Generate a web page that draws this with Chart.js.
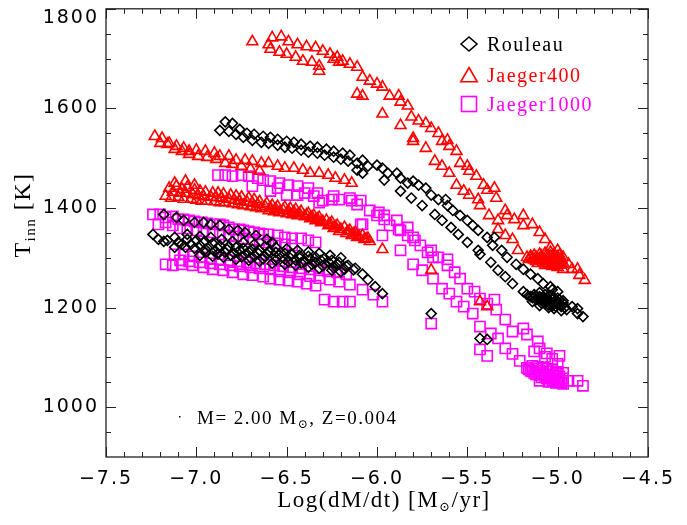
<!DOCTYPE html>
<html>
<head>
<meta charset="utf-8">
<script src="https://cdn.jsdelivr.net/npm/chart.js@4.4.1/dist/chart.umd.min.js"></script>
<style>
  html, body { margin: 0; padding: 0; background: #fff; }
</style>
</head>
<body>
<canvas id="chart" width="687" height="525"></canvas>
<script>
'use strict';

const BLACK = '#000000';
const RED = '#FF0000';
const MAGENTA = '#FF00FF';
const SERIF = "'Liberation Serif', 'DejaVu Serif', serif";
const SANS = "'DejaVu Sans', 'Liberation Sans', sans-serif";

// axes: x = Log(dM/dt) [Msun/yr], y = T_inn [K]
const xTicks = [-7.5, -7.0, -6.5, -6.0, -5.5, -5.0, -4.5];
const xTickLabels = ['\u22127.5', '\u22127.0', '\u22126.5', '\u22126.0', '\u22125.5', '\u22125.0', '\u22124.5'];
const xMinorTicks = [-7.4, -7.3, -7.2, -7.1, -6.9, -6.8, -6.7, -6.6, -6.4, -6.3, -6.2, -6.1,
  -5.9, -5.8, -5.7, -5.6, -5.4, -5.3, -5.2, -5.1, -4.9, -4.8, -4.7, -4.6];
const yTicks = [1000, 1200, 1400, 1600, 1800];
const yTickLabels = ['1000', '1200', '1400', '1600', '1800'];
const yMinorTicks = [950, 1050, 1100, 1150, 1250, 1300, 1350, 1450, 1500, 1550, 1650, 1700, 1750];

const legendLabels = ['Rouleau', 'Jaeger400', 'Jaeger1000'];

// Rouleau (diamonds)
const rouleauUpperBand = [
  [-6.84, 1573], [-6.80, 1570], [-6.76, 1558], [-6.72, 1550], [-6.68, 1548], [-6.63, 1544], [-6.59, 1542],
  [-6.55, 1538], [-6.50, 1534], [-6.46, 1532], [-6.42, 1528], [-6.37, 1524], [-6.33, 1522], [-6.28, 1518],
  [-6.24, 1514], [-6.19, 1510], [-6.15, 1506],
  [-6.87, 1556], [-6.82, 1554], [-6.78, 1548], [-6.74, 1542], [-6.69, 1536], [-6.64, 1532], [-6.60, 1530],
  [-6.55, 1526], [-6.51, 1522], [-6.47, 1520], [-6.42, 1516], [-6.38, 1512], [-6.33, 1510], [-6.29, 1506],
  [-6.24, 1502], [-6.20, 1498], [-6.16, 1494], [-6.11, 1490],
  [-6.08, 1496], [-6.11, 1476], [-6.08, 1470], [-6.05, 1484], [-6.00, 1486], [-5.97, 1480], [-5.96, 1456],
  [-5.94, 1470], [-5.89, 1470]
];
const rouleauUpperSteep = [
  [-5.87, 1460], [-5.83, 1450], [-5.80, 1454], [-5.77, 1446], [-5.73, 1440], [-5.70, 1426], [-5.66, 1417],
  [-5.62, 1417], [-5.61, 1405], [-5.58, 1395], [-5.54, 1385], [-5.50, 1375], [-5.47, 1365], [-5.44, 1355],
  [-5.39, 1341], [-5.35, 1341], [-5.36, 1325], [-5.31, 1315], [-5.28, 1301], [-5.23, 1287], [-5.19, 1277],
  [-5.15, 1267], [-5.11, 1258], [-5.08, 1248], [-5.04, 1242], [-5.03, 1236], [-5.00, 1232]
];
const rouleauLowerSteep = [
  [-5.87, 1434], [-5.81, 1420], [-5.75, 1405], [-5.68, 1387], [-5.64, 1375], [-5.59, 1361], [-5.55, 1347],
  [-5.50, 1331], [-5.44, 1315], [-5.43, 1307], [-5.37, 1291], [-5.33, 1275], [-5.29, 1262], [-5.25, 1248],
  [-5.19, 1232], [-5.14, 1212]
];
const rouleauClump = [
  [-5.17, 1226], [-5.14, 1220], [-5.11, 1218], [-5.09, 1214], [-5.06, 1212], [-5.03, 1208], [-5.00, 1206],
  [-4.98, 1202], [-5.10, 1230], [-5.07, 1226], [-5.04, 1224], [-5.02, 1220], [-4.99, 1216], [-5.10, 1204],
  [-5.05, 1200], [-5.02, 1198], [-4.98, 1194], [-4.95, 1196], [-4.92, 1202], [-4.89, 1198], [-4.89, 1188],
  [-4.86, 1182], [-5.12, 1224], [-5.08, 1220], [-5.05, 1216], [-5.01, 1212], [-5.07, 1208], [-5.03, 1203],
  [-4.97, 1209], [-5.15, 1222], [-5.13, 1226], [-5.12, 1216], [-5.10, 1222], [-5.09, 1209], [-5.08, 1214],
  [-5.06, 1220], [-5.05, 1205], [-5.04, 1212], [-5.03, 1216], [-5.01, 1202], [-5.00, 1210], [-5.00, 1219],
  [-4.98, 1205], [-4.97, 1214], [-4.96, 1200]
];
const rouleauLowerBand = [
  [-7.24, 1347], [-7.21, 1337], [-7.16, 1335], [-7.12, 1341], [-7.10, 1331], [-7.05, 1337], [-7.00, 1335],
  [-6.96, 1331], [-6.91, 1329], [-6.87, 1325], [-6.82, 1323], [-6.78, 1321], [-6.74, 1319], [-6.69, 1317],
  [-6.65, 1315], [-6.60, 1313], [-6.56, 1311], [-6.51, 1309], [-6.47, 1307], [-6.43, 1305], [-6.38, 1303],
  [-6.34, 1301], [-6.29, 1299], [-6.25, 1295], [-6.21, 1291], [-6.16, 1285], [-6.12, 1279], [-6.08, 1267],
  [-6.05, 1256], [-6.01, 1242], [-5.97, 1228],
  [-7.05, 1347], [-6.98, 1343], [-6.92, 1341], [-6.86, 1337], [-6.80, 1333], [-6.74, 1331], [-6.68, 1327],
  [-6.62, 1323], [-6.56, 1321], [-6.50, 1318], [-6.44, 1315], [-6.38, 1312], [-6.32, 1309], [-6.26, 1305],
  [-6.20, 1300],
  [-7.18, 1333], [-7.08, 1327], [-7.03, 1327], [-6.98, 1325], [-6.93, 1322], [-6.88, 1319], [-6.83, 1317],
  [-6.76, 1315], [-6.71, 1312], [-6.66, 1310], [-6.61, 1308], [-6.54, 1306], [-6.49, 1303], [-6.43, 1300],
  [-6.37, 1298], [-6.31, 1295], [-6.27, 1292], [-6.22, 1288], [-6.17, 1283], [-6.13, 1276],
  [-7.12, 1321], [-7.06, 1321], [-7.01, 1319], [-6.95, 1317], [-6.90, 1313], [-6.84, 1311], [-6.79, 1309],
  [-6.73, 1307], [-6.68, 1305], [-6.62, 1303], [-6.56, 1301], [-6.51, 1297], [-6.45, 1295], [-6.40, 1293],
  [-6.34, 1291], [-6.29, 1287], [-6.23, 1283], [-6.18, 1277],
  [-6.95, 1311], [-6.88, 1308], [-6.81, 1305], [-6.75, 1302], [-6.70, 1300], [-6.63, 1298], [-6.56, 1295],
  [-6.49, 1292], [-6.42, 1290], [-6.36, 1287], [-6.30, 1284], [-6.24, 1280], [-6.20, 1272],
  [-6.98, 1305], [-6.91, 1303], [-6.85, 1301], [-6.78, 1297], [-6.71, 1295], [-6.65, 1293], [-6.58, 1289],
  [-6.51, 1287], [-6.45, 1285], [-6.38, 1281], [-6.32, 1279], [-6.25, 1275]
];
const rouleauInner = [
  [-7.18, 1387], [-7.11, 1381], [-7.07, 1375], [-7.01, 1371], [-6.96, 1371], [-6.92, 1367], [-6.87, 1365],
  [-6.82, 1357], [-6.77, 1355], [-6.73, 1351], [-6.67, 1345], [-6.61, 1337], [-6.58, 1331]
];
const rouleauStray = [[-5.70, 1188], [-5.43, 1138], [-5.39, 1136]];

// Jaeger400 (triangles)
const jaeger400Top = [
  [-6.69, 1734], [-6.60, 1728], [-6.58, 1742], [-6.53, 1744], [-6.49, 1734], [-6.44, 1728], [-6.39, 1724],
  [-6.34, 1722], [-6.30, 1715], [-6.26, 1709], [-6.22, 1703], [-6.19, 1695], [-6.15, 1689], [-6.11, 1683],
  [-6.59, 1719], [-6.54, 1713], [-6.50, 1709], [-6.45, 1703], [-6.41, 1695], [-6.36, 1693], [-6.32, 1685],
  [-6.32, 1675], [-6.24, 1699], [-6.21, 1693]
];
const jaeger400UpperSteep = [
  [-6.08, 1663], [-6.04, 1655], [-6.00, 1649], [-5.97, 1643], [-5.93, 1625], [-5.88, 1625], [-5.87, 1613],
  [-5.83, 1605], [-5.81, 1583], [-5.77, 1575], [-5.73, 1570], [-5.70, 1560], [-5.66, 1550], [-5.64, 1534],
  [-5.61, 1536], [-5.60, 1524], [-5.56, 1514], [-5.54, 1490], [-5.50, 1484], [-5.49, 1474], [-5.45, 1464],
  [-5.41, 1446], [-5.39, 1436], [-5.35, 1440], [-5.34, 1420], [-5.29, 1395], [-5.28, 1385], [-5.24, 1377],
  [-5.19, 1385], [-5.19, 1365], [-5.14, 1367], [-5.10, 1351], [-5.07, 1337], [-5.04, 1321], [-5.00, 1315],
  [-4.97, 1301], [-4.94, 1287], [-4.92, 1277], [-4.89, 1277], [-4.88, 1265], [-4.85, 1255]
];
const jaeger400LowerSteep = [
  [-6.11, 1629], [-6.08, 1625], [-5.97, 1589], [-5.87, 1566], [-5.80, 1540], [-5.80, 1534], [-5.73, 1520],
  [-5.68, 1494], [-5.64, 1484], [-5.60, 1470], [-5.56, 1446], [-5.52, 1434], [-5.49, 1426], [-5.44, 1417],
  [-5.43, 1405], [-5.38, 1385], [-5.33, 1375], [-5.33, 1357], [-5.29, 1345], [-5.25, 1337], [-5.22, 1315],
  [-5.17, 1301]
];
const jaeger400Fan = [
  [-5.14, 1299], [-5.11, 1297], [-5.09, 1295], [-5.06, 1293], [-5.03, 1291], [-5.00, 1289], [-4.98, 1287],
  [-5.13, 1305], [-5.10, 1307], [-5.07, 1309], [-5.04, 1311], [-5.02, 1307], [-4.99, 1305], [-5.11, 1289],
  [-5.07, 1285], [-5.03, 1283], [-5.00, 1281], [-4.97, 1277], [-5.16, 1297], [-5.12, 1293], [-5.08, 1290],
  [-5.05, 1287], [-5.01, 1285], [-5.15, 1303], [-5.09, 1301], [-5.05, 1299], [-5.01, 1296], [-4.98, 1294],
  [-5.15, 1300], [-5.13, 1296], [-5.12, 1301], [-5.10, 1294], [-5.09, 1304], [-5.08, 1297], [-5.06, 1305],
  [-5.06, 1289], [-5.04, 1296], [-5.04, 1303], [-5.02, 1290], [-5.02, 1300], [-5.00, 1295], [-5.00, 1302],
  [-4.99, 1286], [-4.98, 1298], [-4.97, 1290]
];
const jaeger400Middle = [
  [-7.23, 1544], [-7.19, 1540], [-7.15, 1530], [-7.11, 1524], [-7.07, 1520], [-7.04, 1514], [-7.00, 1516],
  [-6.95, 1514], [-6.90, 1510], [-6.87, 1504], [-6.82, 1504], [-6.78, 1496], [-6.73, 1496], [-6.69, 1494],
  [-6.64, 1490], [-6.60, 1490], [-6.55, 1484], [-6.51, 1480], [-6.46, 1480], [-6.41, 1476], [-6.37, 1470],
  [-6.32, 1470], [-6.27, 1466], [-6.23, 1460], [-6.18, 1456], [-6.14, 1450],
  [-7.20, 1530], [-7.16, 1528], [-7.12, 1518], [-7.08, 1514], [-7.04, 1508], [-6.99, 1504], [-6.94, 1502],
  [-6.89, 1498], [-6.84, 1490], [-6.80, 1488], [-6.75, 1484], [-6.70, 1478], [-6.65, 1474]
];
const jaeger400Band = [
  [-7.15, 1440], [-7.11, 1444], [-7.08, 1438], [-7.05, 1442], [-7.01, 1436], [-6.98, 1434], [-6.95, 1432],
  [-6.91, 1430], [-6.88, 1430], [-6.85, 1428], [-6.81, 1426], [-6.78, 1424], [-6.75, 1422], [-6.71, 1420],
  [-6.68, 1417], [-6.65, 1413], [-6.61, 1409], [-6.58, 1405], [-6.55, 1403], [-6.51, 1401], [-6.48, 1399],
  [-6.45, 1397], [-6.42, 1393], [-6.38, 1389], [-6.35, 1385], [-6.32, 1381], [-6.28, 1375], [-6.25, 1371],
  [-6.22, 1365], [-6.18, 1361], [-6.15, 1355], [-6.12, 1351], [-6.08, 1345], [-6.05, 1339],
  [-7.13, 1432], [-7.09, 1430], [-7.06, 1430], [-7.02, 1427], [-6.99, 1425], [-6.96, 1423], [-6.92, 1422],
  [-6.89, 1421], [-6.86, 1420], [-6.82, 1418], [-6.79, 1416], [-6.76, 1414], [-6.72, 1412], [-6.69, 1410],
  [-6.66, 1407], [-6.62, 1403], [-6.59, 1400], [-6.56, 1398], [-6.52, 1396], [-6.49, 1394], [-6.46, 1392],
  [-6.43, 1389], [-6.39, 1386], [-6.36, 1382], [-6.33, 1378], [-6.30, 1373], [-6.26, 1368], [-6.23, 1362],
  [-6.20, 1357], [-6.16, 1353], [-6.13, 1348], [-6.10, 1343], [-6.06, 1338],
  [-7.17, 1424], [-7.14, 1420], [-7.10, 1422], [-7.07, 1418], [-7.03, 1418], [-7.00, 1416], [-6.97, 1414],
  [-6.94, 1414], [-6.90, 1413], [-6.87, 1411], [-6.84, 1411], [-6.80, 1409], [-6.77, 1407], [-6.74, 1405],
  [-6.70, 1403], [-6.67, 1401], [-6.64, 1399], [-6.60, 1395], [-6.57, 1393], [-6.54, 1391], [-6.50, 1389],
  [-6.47, 1387], [-6.44, 1385], [-6.40, 1383], [-6.37, 1379], [-6.34, 1375], [-6.31, 1371], [-6.27, 1365],
  [-6.24, 1359], [-6.21, 1353], [-6.17, 1349], [-6.14, 1345], [-6.11, 1341], [-6.07, 1337], [-6.04, 1333],
  [-7.12, 1450], [-7.06, 1454], [-7.01, 1446], [-5.97, 1317]
];
const jaeger400Stray = [[-5.70, 1275], [-5.43, 1212], [-5.39, 1202]];

// Jaeger1000 (squares)
const jaeger1000Upper = [
  [-6.88, 1466], [-6.84, 1466], [-6.80, 1464], [-6.75, 1466], [-6.71, 1464], [-6.66, 1460], [-6.69, 1444],
  [-6.63, 1456], [-6.59, 1454], [-6.59, 1434], [-6.54, 1450], [-6.55, 1440], [-6.49, 1446], [-6.50, 1426],
  [-6.44, 1444], [-6.44, 1426], [-6.38, 1440], [-6.40, 1430], [-6.33, 1430], [-6.35, 1424], [-6.30, 1415],
  [-6.32, 1411], [-6.24, 1424], [-6.25, 1417], [-6.21, 1417], [-6.15, 1420], [-6.14, 1415], [-6.11, 1407],
  [-6.09, 1415], [-6.09, 1367], [-6.08, 1367], [-6.04, 1395], [-6.00, 1385], [-5.99, 1391], [-5.96, 1385],
  [-5.96, 1377], [-5.97, 1345], [-5.89, 1375], [-5.88, 1357], [-5.83, 1361], [-5.80, 1341]
];
const jaeger1000UpperSteep = [
  [-5.93, 1365], [-5.87, 1355], [-5.83, 1345], [-5.79, 1335], [-5.76, 1325], [-5.72, 1311], [-5.70, 1315],
  [-5.69, 1301], [-5.66, 1301], [-5.61, 1297], [-5.61, 1285], [-5.57, 1271], [-5.54, 1258], [-5.50, 1238],
  [-5.46, 1232], [-5.43, 1218], [-5.39, 1208], [-5.35, 1216], [-5.34, 1196], [-5.29, 1176], [-5.25, 1152],
  [-5.19, 1158], [-5.17, 1146], [-5.11, 1132], [-5.10, 1118], [-5.06, 1108], [-5.00, 1087], [-4.94, 1053],
  [-4.89, 1053], [-4.86, 1043]
];
const jaeger1000LowerSteep = [
  [-5.87, 1315], [-5.80, 1287], [-5.75, 1275], [-5.69, 1258], [-5.64, 1238], [-5.60, 1228], [-5.56, 1212],
  [-5.52, 1202], [-5.47, 1188], [-5.43, 1162], [-5.37, 1148], [-5.33, 1138], [-5.29, 1118], [-5.25, 1107],
  [-5.21, 1093], [-5.17, 1079]
];
const jaeger1000Clump = [
  [-5.15, 1073], [-5.13, 1069], [-5.10, 1065], [-5.07, 1063], [-5.04, 1061], [-5.02, 1057], [-4.99, 1055],
  [-5.14, 1083], [-5.11, 1081], [-5.08, 1079], [-5.06, 1077], [-5.03, 1075], [-5.00, 1071], [-4.97, 1069],
  [-5.10, 1053], [-5.05, 1051], [-5.01, 1049], [-4.97, 1047], [-5.13, 1112], [-5.07, 1101], [-5.03, 1097],
  [-4.99, 1103], [-5.16, 1076], [-5.14, 1072], [-5.12, 1077], [-5.12, 1066], [-5.10, 1073], [-5.09, 1060],
  [-5.08, 1069], [-5.06, 1058], [-5.05, 1066], [-5.04, 1072], [-5.03, 1054], [-5.02, 1063], [-5.01, 1069],
  [-5.00, 1052], [-4.99, 1062], [-4.98, 1050], [-4.97, 1058]
];
const jaeger1000BandUpper = [
  [-7.24, 1387], [-7.20, 1387], [-7.17, 1381], [-7.13, 1383], [-7.10, 1377], [-7.07, 1377], [-7.04, 1375],
  [-7.01, 1373], [-6.97, 1371], [-6.94, 1369], [-6.91, 1367], [-6.87, 1367], [-6.85, 1365], [-6.82, 1361],
  [-6.79, 1357], [-6.76, 1357], [-6.74, 1355], [-6.71, 1353], [-6.68, 1351], [-6.65, 1349], [-6.63, 1347],
  [-6.60, 1347], [-6.55, 1345], [-6.51, 1341], [-6.47, 1339], [-6.42, 1339], [-6.38, 1335], [-6.34, 1331],
  [-7.21, 1367], [-7.17, 1371], [-7.13, 1365], [-7.09, 1359], [-7.05, 1359], [-7.00, 1355], [-6.96, 1353],
  [-6.91, 1351], [-6.87, 1347], [-6.82, 1345], [-6.78, 1343], [-6.74, 1339], [-6.69, 1337], [-6.65, 1335],
  [-6.60, 1331], [-6.56, 1329], [-6.51, 1327], [-6.47, 1325]
];
const jaeger1000BandLower = [
  [-7.12, 1307], [-7.07, 1307], [-7.02, 1303], [-6.97, 1301], [-6.92, 1299], [-6.87, 1297], [-6.82, 1295],
  [-6.77, 1293], [-6.72, 1291], [-6.67, 1289], [-6.62, 1287], [-6.57, 1285], [-6.52, 1283], [-6.47, 1281],
  [-6.42, 1279], [-6.37, 1277], [-6.32, 1275], [-6.27, 1273], [-6.22, 1271], [-6.17, 1267],
  [-7.09, 1295], [-7.04, 1293], [-6.98, 1291], [-6.92, 1289], [-6.87, 1287], [-6.81, 1285], [-6.76, 1283],
  [-6.70, 1281], [-6.65, 1279], [-6.59, 1277], [-6.54, 1273], [-6.48, 1271], [-6.43, 1267], [-6.37, 1263],
  [-6.32, 1259], [-6.26, 1256], [-6.21, 1252], [-6.15, 1246],
  [-7.17, 1287], [-7.13, 1285], [-7.08, 1287], [-7.02, 1285], [-6.96, 1281], [-6.91, 1277], [-6.85, 1275],
  [-6.80, 1271], [-6.74, 1267], [-6.69, 1265], [-6.63, 1262], [-6.59, 1258], [-6.54, 1256], [-6.49, 1254],
  [-6.44, 1252], [-6.39, 1248], [-6.34, 1244], [-6.29, 1216], [-6.24, 1212], [-6.19, 1212], [-6.15, 1212],
  [-6.08, 1236], [-6.02, 1226]
];
const jaeger1000Stray = [[-5.97, 1212], [-5.70, 1168], [-5.43, 1116], [-5.39, 1103]];

const toPoints = (...groups) => groups.flat().map(([x, y]) => ({ x, y }));

const rouleau = toPoints(rouleauUpperBand, rouleauUpperSteep, rouleauLowerSteep, rouleauClump,
  rouleauLowerBand, rouleauInner, rouleauStray);
const jaeger400 = toPoints(jaeger400Top, jaeger400UpperSteep, jaeger400LowerSteep, jaeger400Fan,
  jaeger400Middle, jaeger400Band, jaeger400Stray);
const jaeger1000 = toPoints(jaeger1000Upper, jaeger1000UpperSteep, jaeger1000LowerSteep, jaeger1000Clump,
  jaeger1000BandUpper, jaeger1000BandLower, jaeger1000Stray);

// text made of pieces, some smaller and lowered (subscripts)
function drawPieces(ctx, pieces, x, y, align) {
  let total = 0;
  pieces.forEach(p => {
    ctx.font = p.size + 'px ' + SERIF;
    p.w = ctx.measureText(p.text).width;
    total += p.w;
  });
  let cx = align === 'center' ? x - total / 2 : x;
  pieces.forEach(p => {
    ctx.font = p.size + 'px ' + SERIF;
    ctx.fillText(p.text, cx, y + (p.dy || 0));
    cx += p.w;
  });
}

function diamond(ctx, x, y, hw, hh) {
  ctx.beginPath();
  ctx.moveTo(x - hw, y); ctx.lineTo(x, y - hh); ctx.lineTo(x + hw, y); ctx.lineTo(x, y + hh);
  ctx.closePath(); ctx.stroke();
}
function triangle(ctx, x, y, r) {
  ctx.beginPath();
  ctx.moveTo(x, y - r);
  ctx.lineTo(x + r * 0.866, y + r / 2);
  ctx.lineTo(x - r * 0.866, y + r / 2);
  ctx.closePath(); ctx.stroke();
}

const decor = {
  id: 'decor',
  beforeDraw(chart) {
    // wide spacing like the original plot's tick numbers
    if ('letterSpacing' in chart.ctx) chart.ctx.letterSpacing = '2px';
  },
  afterDraw(chart) {
    const { ctx, chartArea: a, scales: { x, y } } = chart;
    ctx.save();

    // frame and inward ticks on all four sides
    ctx.strokeStyle = '#222';
    ctx.lineWidth = 1.3;
    ctx.strokeRect(a.left, a.top, a.right - a.left, a.bottom - a.top);
    ctx.lineWidth = 1;
    ctx.beginPath();
    const xt = (v, len) => {
      const px = Math.round(x.getPixelForValue(v)) + 0.5;
      ctx.moveTo(px, a.bottom); ctx.lineTo(px, a.bottom - len);
      ctx.moveTo(px, a.top); ctx.lineTo(px, a.top + len);
    };
    const yt = (v, len) => {
      const py = Math.round(y.getPixelForValue(v)) + 0.5;
      ctx.moveTo(a.left, py); ctx.lineTo(a.left + len, py);
      ctx.moveTo(a.right, py); ctx.lineTo(a.right - len, py);
    };
    xTicks.forEach(v => xt(v, 10));
    xMinorTicks.forEach(v => xt(v, 5));
    yTicks.forEach(v => yt(v, 10));
    yMinorTicks.forEach(v => yt(v, 5));
    ctx.stroke();

    ctx.fillStyle = '#000';
    ctx.textBaseline = 'alphabetic';
    ctx.textAlign = 'left';
    if ('letterSpacing' in ctx) ctx.letterSpacing = '1.5px';

    // axis titles
    drawPieces(ctx, [
      { text: 'Log(dM/dt) [M', size: 23 },
      { text: '\u2299', size: 13, dy: 4 },
      { text: '/yr]', size: 23 }
    ], 384, 507, 'center');

    ctx.save();
    ctx.translate(30, 215);
    ctx.rotate(-Math.PI / 2);
    drawPieces(ctx, [
      { text: 'T', size: 24 },
      { text: 'inn', size: 15, dy: 5 },
      { text: ' [K]', size: 24 }
    ], 0, 0, 'center');
    ctx.restore();

    // model annotation
    ctx.fillRect(179, 416, 1.5, 1.5);
    drawPieces(ctx, [
      { text: 'M= 2.00 M', size: 19 },
      { text: '\u2299', size: 12, dy: 4 },
      { text: ', Z=0.004', size: 19 }
    ], 197, 424, 'left');

    // legend
    const colors = [BLACK, RED, MAGENTA];
    const rows = [44, 75, 104];
    ctx.lineWidth = 1.6;
    legendLabels.forEach((label, i) => {
      ctx.strokeStyle = colors[i];
      if (i === 0) diamond(ctx, 469, rows[i], 8, 7);
      if (i === 1) triangle(ctx, 469, rows[i] + 2, 9.5);
      if (i === 2) ctx.strokeRect(461.5, rows[i] - 7.5, 15, 15);
      ctx.fillStyle = colors[i];
      ctx.font = '20px ' + SERIF;
      ctx.fillText(label, 487, rows[i] + 7);
    });

    ctx.restore();
  }
};

const markerBase = { backgroundColor: 'rgba(0,0,0,0)', borderWidth: 1.6, showLine: false };

new Chart(document.getElementById('chart'), {
  type: 'scatter',
  data: {
    datasets: [
      { ...markerBase, label: legendLabels[0], data: rouleau, pointStyle: 'rectRot', pointRadius: 5, borderColor: BLACK },
      { ...markerBase, label: legendLabels[1], data: jaeger400, pointStyle: 'triangle', pointRadius: 6.3, borderColor: RED },
      { ...markerBase, label: legendLabels[2], data: jaeger1000, pointStyle: 'rect', pointRadius: 7.2, borderColor: MAGENTA }
    ]
  },
  options: {
    responsive: false,
    animation: false,
    events: [],
    layout: { padding: { top: 4, right: 39, left: 0, bottom: 0 } },
    plugins: { legend: { display: false }, tooltip: { enabled: false } },
    scales: {
      x: {
        type: 'linear', min: -7.5, max: -4.5,
        grid: { display: false, drawTicks: false },
        border: { display: false },
        afterBuildTicks: s => { s.ticks = xTicks.map(v => ({ value: v })); },
        afterFit: s => { s.height = 68; s.paddingLeft = 0; s.paddingRight = 0; },
        ticks: {
          font: { family: SANS, size: 19 }, color: '#000', padding: 11,
          maxRotation: 0, autoSkip: false,
          callback: (v, i) => xTickLabels[i]
        }
      },
      y: {
        type: 'linear', min: 900, max: 1800,
        grid: { display: false, drawTicks: false },
        border: { display: false },
        afterBuildTicks: s => { s.ticks = yTicks.map(v => ({ value: v })); },
        afterFit: s => { s.width = 106; s.paddingTop = 0; s.paddingBottom = 0; },
        ticks: {
          font: { family: SANS, size: 19, lineHeight: 1 }, color: '#000', padding: 7,
          autoSkip: false,
          // top label sits below the tick so it stays on the canvas
          callback: (v, i) => (v === 1800 ? ['', yTickLabels[i]] : yTickLabels[i])
        }
      }
    }
  },
  plugins: [decor]
});
</script>
</body>
</html>
